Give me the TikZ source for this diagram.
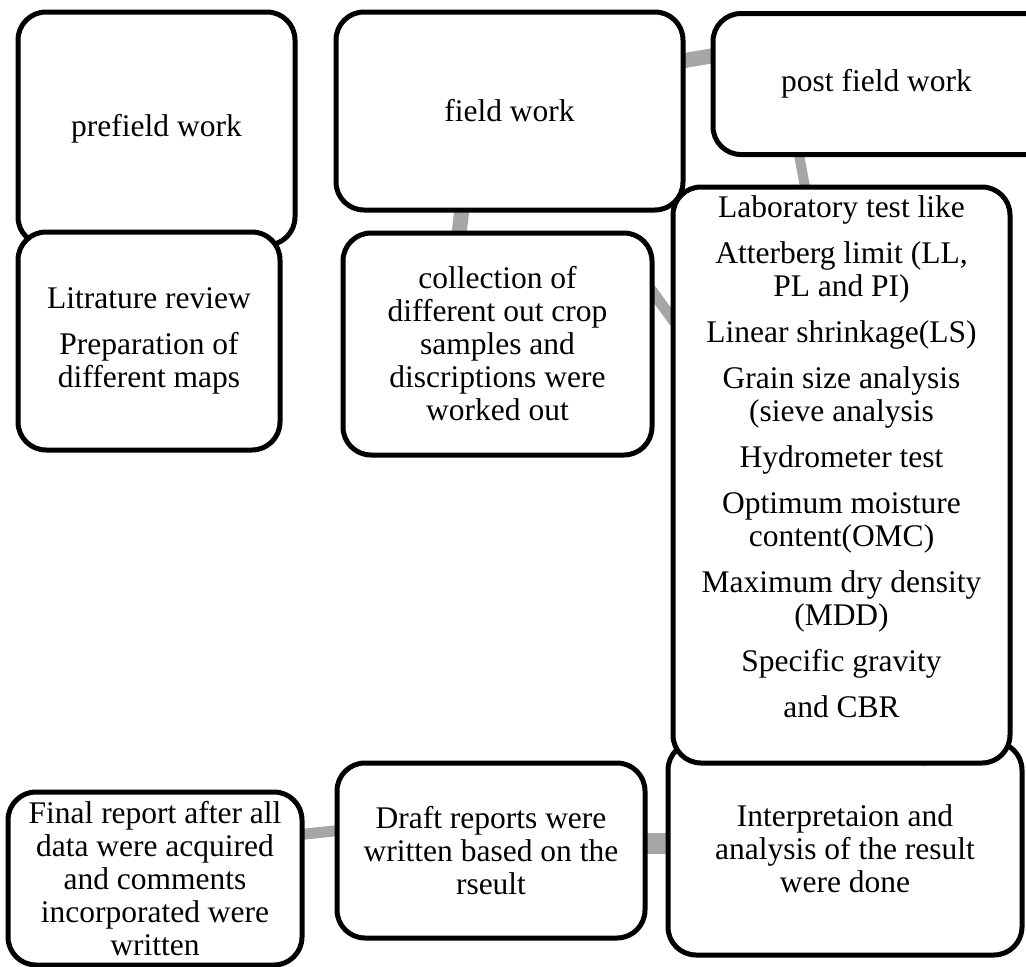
\documentclass[tikz,border=0pt]{standalone}
\usepackage{fontspec}
\setmainfont{Liberation Serif}
\usetikzlibrary{calc}
\pgfdeclarelayer{background}
\pgfdeclarelayer{foreground}
\pgfsetlayers{background,main,foreground}
\definecolor{conngray}{HTML}{A6A6A6}
\tikzset{
  box/.style={draw=black, line width=5pt, fill=white, rounded corners=28pt,
    inner sep=0pt, align=center, font=\fontsize{31.5}{33}\selectfont},
  txt/.style={inner sep=0pt, align=center, font=\fontsize{31.5}{33}\selectfont},
  conn/.style={draw=conngray, line width=#1},
  conn/.default=10pt
}
\begin{document}
\begin{tikzpicture}[x=1pt,y=-1pt]
\useasboundingbox (0,0) rectangle (1026,967);
\begin{scope}
\clip (0,0) rectangle (1026,967);
% boxes (main layer, order gives overlap)
\node[box, minimum width=277pt, minimum height=233pt] (pre) at (156.5,128.5) {prefield work};
\node[box, minimum width=262pt, minimum height=218pt] (lit) at (149,341)
  {Litrature review\\[13pt]Preparation of\\different maps};
\node[box, minimum width=347pt, minimum height=198pt] (field) at (509.5,111) {field work};
\node[box, minimum width=309pt, minimum height=222pt] (coll) at (497.5,344)
  {collection of\\different out crop\\samples and\\discriptions were\\worked out};
\node[box, minimum width=367pt, minimum height=141pt] (post) at (896.5,84)
  {post field work\hspace*{40pt}};
\node[box, minimum width=354pt, minimum height=213pt] (interp) at (845,848.5)
  {Interpretaion and\\analysis of the result\\were done};
\node[box, minimum width=308pt, minimum height=175pt] (draft) at (491,850.5)
  {Draft reports were\\written based on the\\rseult};
\node[box, minimum width=294pt, minimum height=173pt] (final) at (155,878.5)
  {Final report after all\\data were acquired\\and comments\\incorporated were\\written};
\end{scope}
% lab box on top
\begin{pgfonlayer}{foreground}
\node[box, minimum width=337pt, minimum height=576pt] (lab) at (841.5,475) {};
\node[txt] (labtext) at ($(lab.center)+(0,-18)$)
  {Laboratory test like\\[13pt]
   Atterberg limit (LL,\\PL and PI)\\[13pt]
   Linear shrinkage(LS)\\[13pt]
   Grain size analysis\\(sieve analysis\\[13pt]
   Hydrometer test\\[13pt]
   Optimum moisture\\content(OMC)\\[13pt]
   Maximum dry density\\(MDD)\\[13pt]
   Specific gravity\\[13pt]
   and CBR};
\end{pgfonlayer}
% connectors behind boxes
\begin{pgfonlayer}{background}
\draw[conn=15pt] ($(field.east)+(-10,-49)$) -- ($(post.west)+(7,-29)$);
\draw[conn=15pt] ($(field.south)+(-47,-8)$) -- ($(coll.north)+(-39,8)$);
\draw[conn=11pt] ($(coll.east)+(-4,-55)$) -- ($(lab.west)+(4,-153)$);
\draw[conn=10pt] ($(post.south)+(-98,-5)$) -- ($(lab.north)+(-36,5)$);
\draw[conn=21pt] ($(draft.east)+(-5,-7)$) -- ($(interp.west)+(5,-5)$);
\draw[conn=11pt] ($(final.east)+(-4,-44)$) -- ($(draft.west)+(4,-20)$);
\end{pgfonlayer}
% short visible piece between lab and interpretation
\draw[conn=8pt] ($(lab.south)+(83,-12)$) -- ($(interp.north)+(77,26)$);
\end{tikzpicture}
\end{document}
